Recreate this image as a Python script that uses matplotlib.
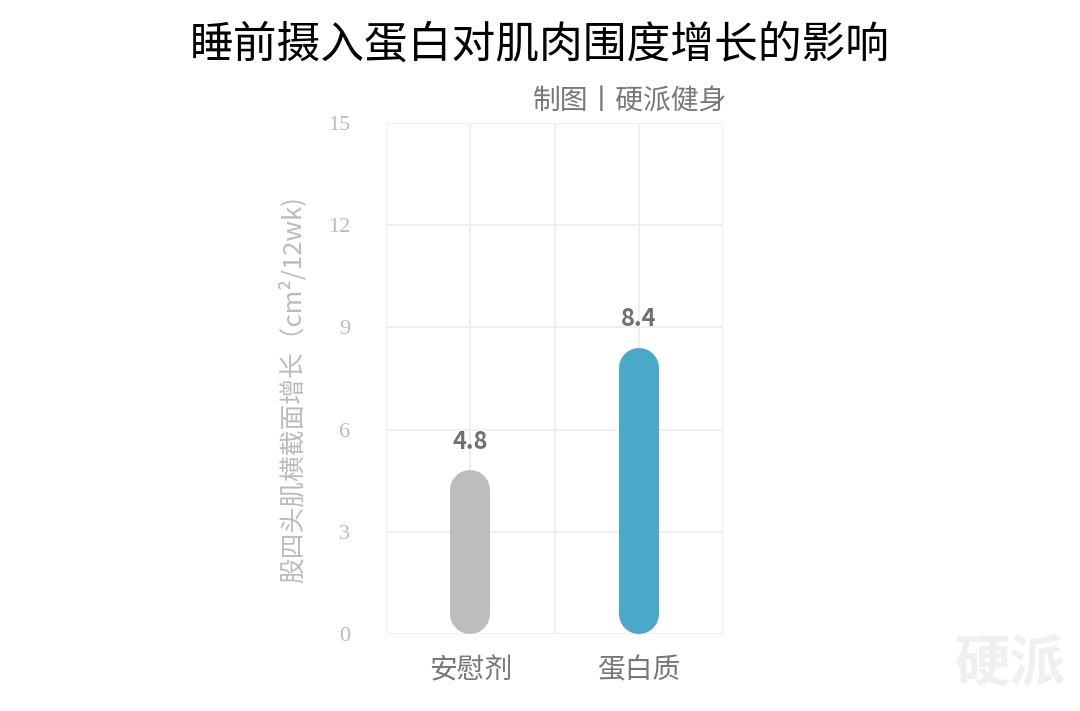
import matplotlib
matplotlib.use("Agg")
import matplotlib.pyplot as plt

plt.rcParams['font.family'] = ['Noto Sans CJK SC', 'DejaVu Sans']

categories = ["安慰剂", "蛋白质"]
values = [4.8, 8.4]
colors = ["#bdbdbd", "#4aa8c9"]
yticks = [0, 3, 6, 9, 12, 15]

fig = plt.figure(figsize=(10.8, 7.11), dpi=100)
ax = fig.add_axes([386/1080, 77/711, 337/1080, 511/711])
ax.set_xlim(0, 2)
ax.set_ylim(0, 15)
for s in ax.spines.values():
    s.set_visible(False)
ax.set_yticks(yticks)
ax.set_yticklabels([str(t) for t in yticks], color="#bbbbbb", fontsize=16, family=['Liberation Serif'])
ax.set_xticks([0, 0.5, 1, 1.5, 2])
ax.set_xticklabels([])
ax.tick_params(length=0)
ax.tick_params(axis='y', pad=26)
ax.grid(True, color="#eeeeee", linewidth=1.3)
ax.set_axisbelow(True)

# bars with fully rounded ends (thick line with round caps)
bar_px = 40
px_y = 511 / 15
r = (bar_px / 2) / px_y
lw_pt = bar_px * 72 / 100
for i, (v, c) in enumerate(zip(values, colors)):
    xc = 0.5 + i
    ax.plot([xc, xc], [r, v - r], color=c, linewidth=lw_pt, solid_capstyle='round', zorder=3)
    ax.text(xc, v + 0.85, f"{v}", ha='center', va='center', fontsize=17, fontweight='bold', color="#707070")
    ax.text(xc, -1.06, categories[i], ha='center', va='center', fontsize=20, color="#777777", clip_on=False)

fig.text(292/1080, 1 - 390/711, "股四头肌横截面增长（cm²/12wk)", rotation=90, ha='center', va='center',
         fontsize=18.5, color="#bbbbbb")

fig.text(540/1080, 1 - 45/711, "睡前摄入蛋白对肌肉围度增长的影响", ha='center', va='center', fontsize=31.5, color="#000000")
fig.text(727/1080, 1 - 102/711, "制图丨硬派健身", ha='right', va='center', fontsize=20, color="#777777")
fig.text(1010/1080, 1 - 665/711, "硬派", ha='center', va='center', fontsize=40, color="#f0f0f0", fontweight='bold', style='italic')

fig.savefig("out.png", dpi=100)
